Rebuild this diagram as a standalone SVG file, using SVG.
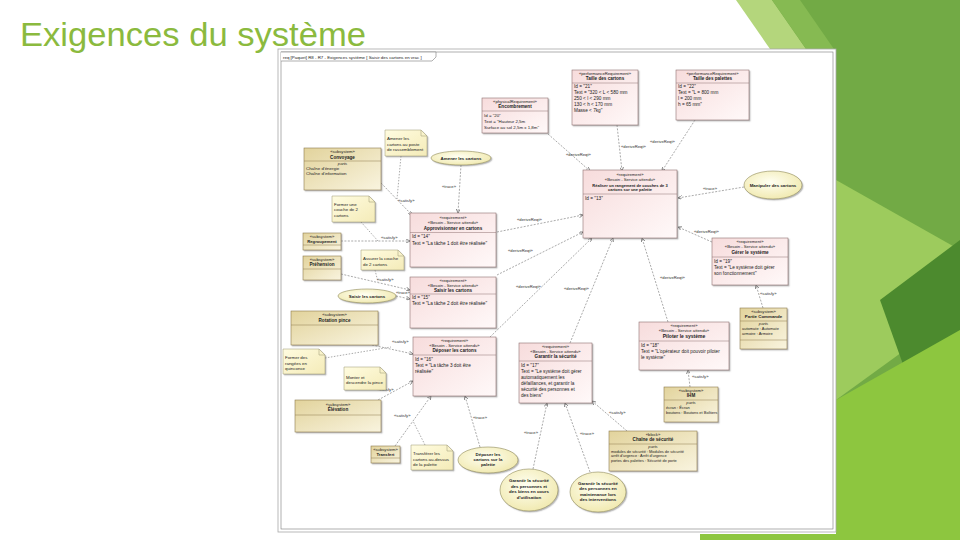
<svg xmlns="http://www.w3.org/2000/svg" width="960" height="540" viewBox="0 0 960 540">
<defs>
<linearGradient id="gReq" x1="0" y1="0" x2="1" y2="1"><stop offset="0" stop-color="#F7DCDC"/><stop offset="1" stop-color="#FFF9F9"/></linearGradient>
<linearGradient id="gBlk" x1="0" y1="0" x2="1" y2="1"><stop offset="0" stop-color="#E2D39C"/><stop offset="1" stop-color="#F9F4DF"/></linearGradient>
<linearGradient id="gNote" x1="0" y1="0" x2="1" y2="1"><stop offset="0" stop-color="#FFFCE0"/><stop offset="1" stop-color="#F4EBB8"/></linearGradient>
<radialGradient id="gUc" cx="0.45" cy="0.4" r="0.6"><stop offset="0" stop-color="#FFFFF2"/><stop offset="1" stop-color="#F1EAB2"/></radialGradient>
<filter id="sh" x="-10%" y="-10%" width="130%" height="130%"><feDropShadow dx="1.2" dy="1.2" stdDeviation="0.6" flood-color="#777" flood-opacity="0.5"/></filter>
<marker id="a" viewBox="0 0 6 6" refX="6" refY="3" markerUnits="userSpaceOnUse" markerWidth="4" markerHeight="4" orient="auto"><path d="M0,0 L6,3 L0,6" fill="none" stroke="#444" stroke-width="0.9"/></marker>
</defs>
<style>
.req{fill:url(#gReq);stroke:#8E7070;stroke-width:0.6;filter:url(#sh)}
.blk{fill:url(#gBlk);stroke:#8C7B4C;stroke-width:0.6;filter:url(#sh)}
.note{fill:url(#gNote);stroke:#9A9570;stroke-width:0.5;filter:url(#sh)}
.uc{fill:url(#gUc);stroke:#8E8A5A;stroke-width:0.6;filter:url(#sh)}
.sep{stroke:#8E7070;stroke-width:0.5}
.sepb{stroke:#8C7B4C;stroke-width:0.5}
text{font-family:"Liberation Sans",Arial,sans-serif;fill:#222}
.st{font-size:4.2px;text-anchor:middle}
.nm{font-size:4.6px;font-weight:bold;text-anchor:middle}
.pr{font-size:4.7px}
.pt{font-size:4.2px;font-style:italic;text-anchor:middle}
.nt{font-size:4.4px}
.ut{font-size:4.4px;text-anchor:middle;font-weight:bold}
.lb{font-size:4.2px;fill:#333}
.c{fill:none;stroke:#555;stroke-width:0.5;stroke-dasharray:2 1.4;marker-end:url(#a)}
.an{fill:none;stroke:#555;stroke-width:0.5;stroke-dasharray:1.5 1.5}
</style>
<rect width="960" height="540" fill="#FFFFFF"/>
<g id="decor">
<polygon points="765,0 960,0 960,540 836,540 836,49 790,49" fill="#72AA45"/>
<polygon points="736,0 772,0 806,49 770,49" fill="#B4D67C"/>
<polygon points="772,0 800,0 836,52 836,92" fill="#86BA52"/>
<polygon points="836,180 960,250 960,310 836,400" fill="#9DCB5D"/>
<polygon points="880,300 960,240 960,410 905,370" fill="#4C8A2E"/>
<polygon points="836,400 960,330 960,540 700,540 700,534 836,534" fill="#8DC63F"/>
</g>
<text x="20" y="46" font-size="34" textLength="346" lengthAdjust="spacingAndGlyphs" style="font-family:'Liberation Sans',Arial,sans-serif;fill:#8BBA3E">Exigences du système</text>
<g id="frame">
<rect x="278" y="49" width="558" height="483" fill="#FFFFFF" stroke="#A8A8A8" stroke-width="0.8"/>
<rect x="281" y="52" width="552" height="477" fill="none" stroke="#7A7A7A" stroke-width="0.6"/>
<path d="M281,52 H436 V57 L432,61 H281" fill="#FFFFFF" stroke="#7A7A7A" stroke-width="0.6"/>
<text x="283" y="58.5" style="font-size:4.4px">req [Paquet] R8 - R7 - Exigences système [ Saisir des cartons en vrac ]</text>
</g>
<g id="connectors">
<line class="c" x1="381" y1="183" x2="412" y2="215"/><text class="lb" x="398" y="202">«satisfy»</text>
<line class="an" x1="401" y1="156" x2="397" y2="199"/>
<line class="c" x1="461" y1="165" x2="458" y2="213"/><text class="lb" x="442" y="188">«trace»</text>
<line class="an" x1="361" y1="222" x2="378" y2="241"/>
<line class="c" x1="341" y1="241" x2="410" y2="241"/><text class="lb" x="381" y="238.5">«satisfy»</text>
<line class="c" x1="341" y1="274" x2="410" y2="290"/><text class="lb" x="377" y="281">«satisfy»</text>
<line class="an" x1="375" y1="270" x2="378" y2="282"/>
<line class="c" x1="396" y1="296" x2="410" y2="299"/><text class="lb" x="396" y="294">«trace»</text>
<line class="c" x1="372" y1="345" x2="413" y2="354"/><text class="lb" x="392" y="343">«satisfy»</text>
<line class="an" x1="325" y1="358" x2="391" y2="347"/>
<line class="c" x1="378" y1="400" x2="413" y2="381"/><text class="lb" x="377" y="391">«satisfy»</text>
<line class="c" x1="395" y1="446" x2="431" y2="396"/><text class="lb" x="394" y="417">«satisfy»</text>
<line class="an" x1="425" y1="445" x2="413" y2="421"/>
<line class="c" x1="480" y1="447" x2="465" y2="396"/><text class="lb" x="473" y="419">«trace»</text>
<line class="c" x1="533" y1="469" x2="547" y2="403"/><text class="lb" x="524" y="434">«trace»</text>
<line class="c" x1="590" y1="472" x2="565" y2="403"/><text class="lb" x="580" y="435">«trace»</text>
<line class="c" x1="627" y1="431" x2="592" y2="401"/><text class="lb" x="609" y="414">«satisfy»</text>
<line class="c" x1="690" y1="387" x2="688" y2="370"/><text class="lb" x="692" y="378">«satisfy»</text>
<line class="c" x1="763" y1="308" x2="756" y2="285"/><text class="lb" x="760" y="295">«satisfy»</text>
<line class="c" x1="712" y1="242" x2="678" y2="227"/><text class="lb" x="694" y="233">«deriveReqt»</text>
<line class="c" x1="744" y1="187" x2="678" y2="198"/><text class="lb" x="703" y="190">«trace»</text>
<line class="c" x1="668" y1="322" x2="642" y2="238"/><text class="lb" x="660" y="279">«deriveReqt»</text>
<line class="c" x1="570" y1="343" x2="613" y2="238"/><text class="lb" x="564" y="290">«deriveReqt»</text>
<line class="c" x1="490" y1="337" x2="592" y2="238"/><text class="lb" x="516" y="288">«deriveReqt»</text>
<line class="c" x1="497" y1="275" x2="583" y2="232"/><text class="lb" x="508" y="252">«deriveReqt»</text>
<line class="c" x1="497" y1="232" x2="583" y2="215"/><text class="lb" x="517" y="221">«deriveReqt»</text>
<line class="c" x1="548" y1="134" x2="590" y2="171"/><text class="lb" x="566" y="156">«deriveReqt»</text>
<line class="c" x1="617" y1="125" x2="622" y2="171"/><text class="lb" x="621" y="148">«deriveReqt»</text>
<line class="c" x1="695" y1="120" x2="662" y2="171"/><text class="lb" x="650" y="143">«deriveReqt»</text>
</g>
<g id="req13">
<rect class="req" x="583" y="170" width="94" height="68"/>
<line class="sep" x1="583" y1="194" x2="677" y2="194"/>
<text class="st" x="630" y="175.5">«requirement»</text>
<text class="st" x="630" y="180.5">«Besoin - Service attendu»</text>
<text class="nm" x="630" y="186.5" style="font-size:4px">Réaliser un rangement de couches de 3</text>
<text class="nm" x="630" y="191" style="font-size:4px">cartons sur une palette</text>
<text class="pr" x="585" y="199.5">Id = "13"</text>
</g>
<g id="req14">
<rect class="req" x="410" y="213" width="86" height="54"/>
<line class="sep" x1="410" y1="232.5" x2="496" y2="232.5"/>
<text class="st" x="453" y="218.5">«requirement»</text>
<text class="st" x="453" y="223.5">«Besoin - Service attendu»</text>
<text class="nm" x="453" y="229.5">Approvisionner en cartons</text>
<text class="pr" x="412" y="238">Id = "14"</text>
<text class="pr" x="412" y="244.5">Text = "La tâche 1 doit être réalisée"</text>
</g>
<g id="req15">
<rect class="req" x="410" y="277" width="86" height="51"/>
<line class="sep" x1="410" y1="294" x2="496" y2="294"/>
<text class="st" x="453" y="281.5">«requirement»</text>
<text class="st" x="453" y="286.5">«Besoin - Service attendu»</text>
<text class="nm" x="453" y="292">Saisir les cartons</text>
<text class="pr" x="412" y="299">Id = "15"</text>
<text class="pr" x="412" y="305">Text = "La tâche 2 doit être réalisée"</text>
</g>
<g id="req16">
<rect class="req" x="413" y="337" width="83" height="59"/>
<line class="sep" x1="413" y1="355" x2="496" y2="355"/>
<text class="st" x="454.5" y="341.5">«requirement»</text>
<text class="st" x="454.5" y="346.5">«Besoin - Service attendu»</text>
<text class="nm" x="454.5" y="352">Déposer les cartons</text>
<text class="pr" x="415" y="361">Id = "16"</text>
<text class="pr" x="415" y="367">Text = "La tâche 3 doit être</text>
<text class="pr" x="415" y="373">réalisée"</text>
</g>
<g id="req17">
<rect class="req" x="519" y="343" width="73" height="60"/>
<line class="sep" x1="519" y1="361" x2="592" y2="361"/>
<text class="st" x="555.5" y="347.5">«requirement»</text>
<text class="st" x="555.5" y="352.5">«Besoin - Service attendu»</text>
<text class="nm" x="555.5" y="358">Garantir la sécurité</text>
<text class="pr" x="521" y="367">Id = "17"</text>
<text class="pr" x="521" y="373">Text = "Le système doit gérer</text>
<text class="pr" x="521" y="379">automatiquement les</text>
<text class="pr" x="521" y="385">défaillances, et garantir la</text>
<text class="pr" x="521" y="391">sécurité des personnes et</text>
<text class="pr" x="521" y="397">des biens"</text>
</g>
<g id="req18">
<rect class="req" x="639" y="322" width="90" height="48"/>
<line class="sep" x1="639" y1="341" x2="729" y2="341"/>
<text class="st" x="684" y="326.5">«requirement»</text>
<text class="st" x="684" y="331.5">«Besoin - Service attendu»</text>
<text class="nm" x="684" y="338" style="font-size:5px">Piloter le système</text>
<text class="pr" x="641" y="346.5">Id = "18"</text>
<text class="pr" x="641" y="352.5">Text = "L'opérateur doit pouvoir piloter</text>
<text class="pr" x="641" y="358.5">le système"</text>
</g>
<g id="req19">
<rect class="req" x="712" y="238" width="76" height="47"/>
<line class="sep" x1="712" y1="257" x2="788" y2="257"/>
<text class="st" x="750" y="242.5">«requirement»</text>
<text class="st" x="750" y="247.5">«Besoin - Service attendu»</text>
<text class="nm" x="750" y="253.5">Gérer le système</text>
<text class="pr" x="714" y="262.5">Id = "19"</text>
<text class="pr" x="714" y="268.5">Text = "Le système doit gérer</text>
<text class="pr" x="714" y="274.5">son fonctionnement"</text>
</g>
<g id="req20">
<rect class="req" x="482" y="98" width="66" height="35"/>
<line class="sep" x1="482" y1="111" x2="548" y2="111"/>
<text class="st" x="515" y="102.5">«physicalRequirement»</text>
<text class="nm" x="515" y="108">Encombrement</text>
<text class="pr" x="484" y="116.5" style="font-size:4.4px">Id = "20"</text>
<text class="pr" x="484" y="122.5" style="font-size:4.4px">Text = "Hauteur 2,5m</text>
<text class="pr" x="484" y="128.5" style="font-size:4.4px">Surface au sol 2,5m x 1,8m"</text>
</g>
<g id="req21">
<rect class="req" x="572" y="70" width="66" height="55"/>
<line class="sep" x1="572" y1="83" x2="638" y2="83"/>
<text class="st" x="605" y="74.5">«performanceRequirement»</text>
<text class="nm" x="605" y="80">Taille des cartons</text>
<text class="pr" x="574" y="88">Id = "21"</text>
<text class="pr" x="574" y="94">Text = "320 &lt; L &lt; 580 mm</text>
<text class="pr" x="574" y="100">250 &lt; l &lt; 290 mm</text>
<text class="pr" x="574" y="106">130 &lt; h &lt; 170 mm</text>
<text class="pr" x="574" y="112">Masse &lt; 7kg"</text>
</g>
<g id="req22">
<rect class="req" x="676" y="70" width="73" height="50"/>
<line class="sep" x1="676" y1="83" x2="749" y2="83"/>
<text class="st" x="712.5" y="74.5">«performanceRequirement»</text>
<text class="nm" x="712.5" y="80">Taille des palettes</text>
<text class="pr" x="678" y="88">Id = "22"</text>
<text class="pr" x="678" y="94">Text = "L = 800 mm</text>
<text class="pr" x="678" y="100">l = 200 mm</text>
<text class="pr" x="678" y="106">h = 65 mm"</text>
</g>
<g id="blkConvoyage">
<rect class="blk" x="304" y="148" width="77" height="42"/>
<line class="sepb" x1="304" y1="161" x2="381" y2="161"/>
<text class="st" x="342.5" y="153">«subsystem»</text>
<text class="nm" x="342.5" y="158.5">Convoyage</text>
<text class="pt" x="342.5" y="165">parts</text>
<text class="nt" x="306" y="170">Chaîne d'énergie</text>
<text class="nt" x="306" y="175">Chaîne d'information</text>
</g>
<g id="blkRegroupement">
<rect class="blk" x="303" y="233" width="38" height="17"/>
<line class="sepb" x1="303" y1="245" x2="341" y2="245"/>
<text class="st" x="322" y="237.5">«subsystem»</text>
<text class="nm" x="322" y="242.5" style="font-size:4.2px">Regroupement</text>
</g>
<g id="blkPrehension">
<rect class="blk" x="303" y="256" width="38" height="24"/>
<line class="sepb" x1="303" y1="269" x2="341" y2="269"/>
<text class="st" x="322" y="260.5">«subsystem»</text>
<text class="nm" x="322" y="266">Préhension</text>
</g>
<g id="blkRotation">
<rect class="blk" x="291" y="311" width="87" height="34"/>
<line class="sepb" x1="291" y1="325" x2="378" y2="325"/>
<text class="st" x="334.5" y="316">«subsystem»</text>
<text class="nm" x="334.5" y="321.5">Rotation pince</text>
</g>
<g id="blkElevation">
<rect class="blk" x="295" y="400" width="86" height="32"/>
<line class="sepb" x1="295" y1="415" x2="381" y2="415"/>
<text class="st" x="338" y="405.5">«subsystem»</text>
<text class="nm" x="338" y="411">Élévation</text>
</g>
<g id="blkTransfert">
<rect class="blk" x="371" y="446" width="29" height="17"/>
<line class="sepb" x1="371" y1="458" x2="400" y2="458"/>
<text class="st" x="385.5" y="450.5">«subsystem»</text>
<text class="nm" x="385.5" y="455.5" style="font-size:4.2px">Transfert</text>
</g>
<g id="blkPartieCommande">
<rect class="blk" x="740" y="308" width="47" height="41"/>
<line class="sepb" x1="740" y1="321" x2="787" y2="321"/>
<line class="sepb" x1="740" y1="340" x2="787" y2="340"/>
<text class="st" x="763.5" y="312.5">«subsystem»</text>
<text class="nm" x="763.5" y="318" style="font-size:4.4px">Partie Commande</text>
<text class="pt" x="763.5" y="325">parts</text>
<text class="nt" x="742" y="330" style="font-size:4px">automate : Automate</text>
<text class="nt" x="742" y="335" style="font-size:4px">armoire : Armoire</text>
</g>
<g id="blkIHM">
<rect class="blk" x="664" y="387" width="54" height="35"/>
<line class="sepb" x1="664" y1="400" x2="718" y2="400"/>
<text class="st" x="691" y="391.5">«subsystem»</text>
<text class="nm" x="691" y="397">IHM</text>
<text class="pt" x="691" y="404">parts</text>
<text class="nt" x="666" y="409" style="font-size:4px">écran : Écran</text>
<text class="nt" x="666" y="414" style="font-size:4px">boutons : Boutons et Boîtiers</text>
</g>
<g id="blkChaineSecurite">
<rect class="blk" x="609" y="431" width="88" height="40"/>
<line class="sepb" x1="609" y1="444" x2="697" y2="444"/>
<text class="st" x="653" y="435.5">«block»</text>
<text class="nm" x="653" y="441">Chaîne de sécurité</text>
<text class="pt" x="653" y="448">parts</text>
<text class="nt" x="611" y="452.5" style="font-size:3.9px">modules de sécurité : Modules de sécurité</text>
<text class="nt" x="611" y="457" style="font-size:3.9px">arrêt d'urgence : Arrêt d'urgence</text>
<text class="nt" x="611" y="462" style="font-size:3.9px">portes des palettes : Sécurité de porte</text>
</g>
<g id="note1">
<path class="note" d="M385,130 H421 L427,136 V156 H385 Z"/>
<path d="M421,130 V136 H427" fill="none" stroke="#9A9570" stroke-width="0.5"/>
<text class="nt" x="387" y="140">Amener les</text>
<text class="nt" x="387" y="145.5">cartons au poste</text>
<text class="nt" x="387" y="151">de rassemblement</text>
</g>
<g id="note2">
<path class="note" d="M332,196 H369 L375,202 V222 H332 Z"/>
<path d="M369,196 V202 H375" fill="none" stroke="#9A9570" stroke-width="0.5"/>
<text class="nt" x="334" y="205.5">Former une</text>
<text class="nt" x="334" y="211">couche de 2</text>
<text class="nt" x="334" y="216.5">cartons</text>
</g>
<g id="note3">
<path class="note" d="M361,250 H398 L404,256 V270 H361 Z"/>
<path d="M398,250 V256 H404" fill="none" stroke="#9A9570" stroke-width="0.5"/>
<text class="nt" x="363" y="260">Assurer la couche</text>
<text class="nt" x="363" y="265.5">de 2 cartons</text>
</g>
<g id="note4">
<path class="note" d="M283,349 H319 L325,355 V374 H283 Z"/>
<path d="M319,349 V355 H325" fill="none" stroke="#9A9570" stroke-width="0.5"/>
<text class="nt" x="285" y="359">Former des</text>
<text class="nt" x="285" y="364.5">rangées en</text>
<text class="nt" x="285" y="370">quinconce</text>
</g>
<g id="note5">
<path class="note" d="M344,367 H380 L386,373 V390 H344 Z"/>
<path d="M380,367 V373 H386" fill="none" stroke="#9A9570" stroke-width="0.5"/>
<text class="nt" x="346" y="379">Monter et</text>
<text class="nt" x="346" y="384">descendre la pince</text>
</g>
<g id="note6">
<path class="note" d="M411,445 H447 L453,451 V470 H411 Z"/>
<path d="M447,445 V451 H453" fill="none" stroke="#9A9570" stroke-width="0.5"/>
<text class="nt" x="413" y="455">Transférer les</text>
<text class="nt" x="413" y="460.5">cartons au-dessus</text>
<text class="nt" x="413" y="466">de la palette</text>
</g>
<g id="ucAmener">
<ellipse class="uc" cx="461" cy="158" rx="30" ry="7"/>
<text class="ut" x="461" y="159.5">Amener les cartons</text>
</g>
<g id="ucSaisir">
<ellipse class="uc" cx="367" cy="296" rx="29" ry="7"/>
<text class="ut" x="367" y="297.5">Saisir les cartons</text>
</g>
<g id="ucManipuler">
<ellipse class="uc" cx="773" cy="185" rx="29" ry="14"/>
<text class="ut" x="773" y="186.5">Manipuler des cartons</text>
</g>
<g id="ucDeposer">
<ellipse class="uc" cx="488" cy="460" rx="30" ry="13"/>
<text class="ut" x="488" y="456">Déposer les</text>
<text class="ut" x="488" y="461">cartons sur la</text>
<text class="ut" x="488" y="466">palette</text>
</g>
<g id="ucSecuUtil">
<ellipse class="uc" cx="529" cy="490" rx="29" ry="21"/>
<text class="ut" x="529" y="482">Garantir la sécurité</text>
<text class="ut" x="529" y="487.5">des personnes et</text>
<text class="ut" x="529" y="493">des biens en cours</text>
<text class="ut" x="529" y="498.5">d'utilisation</text>
</g>
<g id="ucSecuMaint">
<ellipse class="uc" cx="598" cy="492" rx="28" ry="20"/>
<text class="ut" x="598" y="484.5">Garantir la sécurité</text>
<text class="ut" x="598" y="490">des personnes en</text>
<text class="ut" x="598" y="495.5">maintenance lors</text>
<text class="ut" x="598" y="501">des interventions</text>
</g>
</svg>
